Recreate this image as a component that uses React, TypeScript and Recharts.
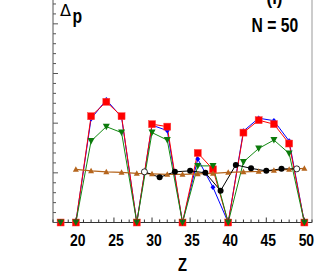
import React from 'react';
import { LineChart, Line, XAxis, YAxis } from 'recharts';

// nuclear charge Z (even for the shell-model series, odd for the black one)
const zEven = [18, 20, 22, 24, 26, 28, 30, 32, 34, 36, 38, 40, 42, 44, 46, 48, 50];
const zBrown = [20, 22, 24, 26, 28, 30, 32, 34, 36, 38, 40, 42, 44, 46, 48, 50];
const zOdd = [29, 31, 33, 35, 37, 39, 41, 43, 45, 47, 49];

const redVals = [0, 0, 2.14, 2.43, 2.14, 0, 1.98, 1.93, 0, 1.4, 1.07, 0, 1.81, 2.06, 1.98, 1.59, 0];
const blueVals = [0, 0, 2.09, 2.47, 2.12, 0, 1.96, 1.85, 0, 1.28, 0.71, 0, 1.84, 2.1, 2.05, 1.64, 0];
const greenVals = [0, 0, 1.64, 1.93, 1.81, 0, 1.81, 1.66, 0, 1.14, 1.14, 0, 1.22, 1.49, 1.66, 1.39, 0];
const brownVals = [1.07, 1.04, 1.02, 1.01, 0.99, 0.98, 0.97, 0.97, 0.98, 0.99, 1.01, 1.02, 1.03, 1.05, 1.07, 1.09];
const blackVals = [1.02, 0.91, 1.02, 1.04, 1.0, 0.64, 1.16, 1.09, 1.04, 1.08, 1.08];

const xTicks = [17, 18, 19, 20, 21, 22, 23, 24, 25, 26, 27, 28, 29, 30, 31, 32, 33, 34, 35, 36, 37, 38, 39, 40, 41, 42, 43, 44, 45, 46, 47, 48, 49, 50, 51];
const xLabels = [20, 25, 30, 35, 40, 45, 50];
const yTicks = [0, 0.2, 0.4, 0.6, 0.8, 1, 1.2, 1.4, 1.6, 1.8, 2, 2.2, 2.4, 2.6, 2.8, 3, 3.2, 3.4, 3.6, 3.8, 4, 4.2, 4.4];
const yMajor = [0, 1, 2, 3, 4];

const pairs = (xs: number[], ys: number[]) => xs.map((z, i) => ({ z, v: ys[i] }));

// no narrow face installed, so bold Arial-like text is squeezed with textLength
const FONT = '"Liberation Sans", Arial, sans-serif';

const XTick = (props: any) => {
  const { x, y, payload } = props;
  const major = xLabels.includes(payload.value);
  return (
    <g>
      <line x1={x} x2={x} y1={y} y2={y - (major ? 5 : 3)} stroke="#333" />
      {major && (
        <text x={x + 2} y={y + 23.5} textAnchor="middle" fontFamily={FONT} fontWeight="bold" fontSize={17} fill="#000" textLength={15.5} lengthAdjust="spacingAndGlyphs">
          {payload.value}
        </text>
      )}
    </g>
  );
};

const YTick = (side: 'left' | 'right') => (props: any) => {
  const { x, y, payload } = props;
  const len = yMajor.includes(payload.value) ? 5 : 3;
  const dir = side === 'left' ? 1 : -1;
  return <line x1={x} x2={x + dir * len} y1={y} y2={y} stroke={side === 'left' ? '#555' : '#999'} />;
};

const squareDot = (p: any) => (
  <rect key={p.index} x={p.cx - 3.5} y={p.cy - 3.5} width={7} height={7} fill="#ff0000" stroke="#ff4040" strokeWidth={0.5} />
);
const diamondDot = (p: any) => (
  <polygon key={p.index} points={`${p.cx},${p.cy - 2.8} ${p.cx + 2.5},${p.cy} ${p.cx},${p.cy + 2.8} ${p.cx - 2.5},${p.cy}`} fill="#0000ff" />
);
const downTriDot = (p: any) => (
  <polygon key={p.index} points={`${p.cx - 3.5},${p.cy - 3} ${p.cx + 3.5},${p.cy - 3} ${p.cx},${p.cy + 3.5}`} fill="#0b7a0b" />
);
const upTriDot = (p: any) => (
  <polygon key={p.index} points={`${p.cx - 3},${p.cy + 2.5} ${p.cx + 3},${p.cy + 2.5} ${p.cx},${p.cy - 3}`} fill="#b5651d" />
);
const circleDot = (p: any) => {
  const open = p.index === 0 || p.index === zOdd.length - 1;
  return <circle key={p.index} cx={p.cx} cy={p.cy} r={3} fill={open ? '#fff' : '#000'} stroke="#000" strokeWidth={open ? 0.8 : 0} />;
};

const ZLabel = (props: any) => {
  const { viewBox } = props;
  const cx = viewBox.x + viewBox.width / 2;
  return (
    <text x={cx} y={270.7} textAnchor="middle" fontFamily={FONT} fontWeight="bold" fontSize={18} fill="#000" textLength={9} lengthAdjust="spacingAndGlyphs">
      Z
    </text>
  );
};

export default function App() {
  return (
    <div style={{ position: 'absolute', left: 0, top: 0, width: 321, height: 274, background: '#fff' }}>
      <LineChart width={321} height={274} margin={{ top: 0, right: 8, left: 52, bottom: 0 }}>
        <XAxis
          dataKey="z"
          type="number"
          domain={[17, 51]}
          ticks={xTicks}
          interval={0}
          height={51.5}
          tickSize={0}
          tickMargin={0}
          tickLine={false}
          tick={<XTick />}
          axisLine={{ stroke: '#333' }}
          label={<ZLabel />}
        />
        <YAxis yAxisId="left" type="number" domain={[0, 4.48]} ticks={yTicks} interval={0} width={1} tickSize={0} tickMargin={0} tickLine={false} tick={YTick('left')} axisLine={{ stroke: '#555' }} />
        <YAxis yAxisId="right" orientation="right" type="number" domain={[0, 4.48]} ticks={yTicks} interval={0} width={1} tickSize={0} tickMargin={0} tickLine={false} tick={YTick('right')} axisLine={{ stroke: '#999' }} />
        <Line yAxisId="left" data={pairs(zEven, blueVals)} dataKey="v" type="linear" stroke="#0000ff" strokeWidth={1} dot={diamondDot} isAnimationActive={false} />
        <Line yAxisId="left" data={pairs(zEven, redVals)} dataKey="v" type="linear" stroke="#ff0000" strokeWidth={1} dot={squareDot} isAnimationActive={false} />
        <Line yAxisId="left" data={pairs(zEven, greenVals)} dataKey="v" type="linear" stroke="#138a13" strokeWidth={1} dot={downTriDot} isAnimationActive={false} />
        <Line yAxisId="left" data={pairs(zBrown, brownVals)} dataKey="v" type="linear" stroke="#b5651d" strokeWidth={1.2} dot={upTriDot} isAnimationActive={false} />
        <Line yAxisId="left" data={pairs(zOdd, blackVals)} dataKey="v" type="linear" stroke="#000" strokeWidth={1} dot={circleDot} isAnimationActive={false} />
      </LineChart>
      <svg width={321} height={274} style={{ position: 'absolute', left: 0, top: 0, pointerEvents: 'none' }}>
        <text x={60} y={16} fontFamily='"DejaVu Sans", sans-serif' fontSize={15} fill="#000" textLength={11} lengthAdjust="spacingAndGlyphs">Δ</text>
        <text x={72.5} y={23} fontFamily={FONT} fontWeight="bold" fontSize={20} fill="#000" textLength={9.6} lengthAdjust="spacingAndGlyphs">p</text>
        <text x={266.5} y={4} fontFamily={FONT} fontWeight="bold" fontSize={19} fill="#000" textLength={16} lengthAdjust="spacingAndGlyphs">(l)</text>
        <text x={251.5} y={32.3} fontFamily={FONT} fontWeight="bold" fontSize={19.5} fill="#000" textLength={46.6} lengthAdjust="spacingAndGlyphs">N = 50</text>
      </svg>
    </div>
  );
}
